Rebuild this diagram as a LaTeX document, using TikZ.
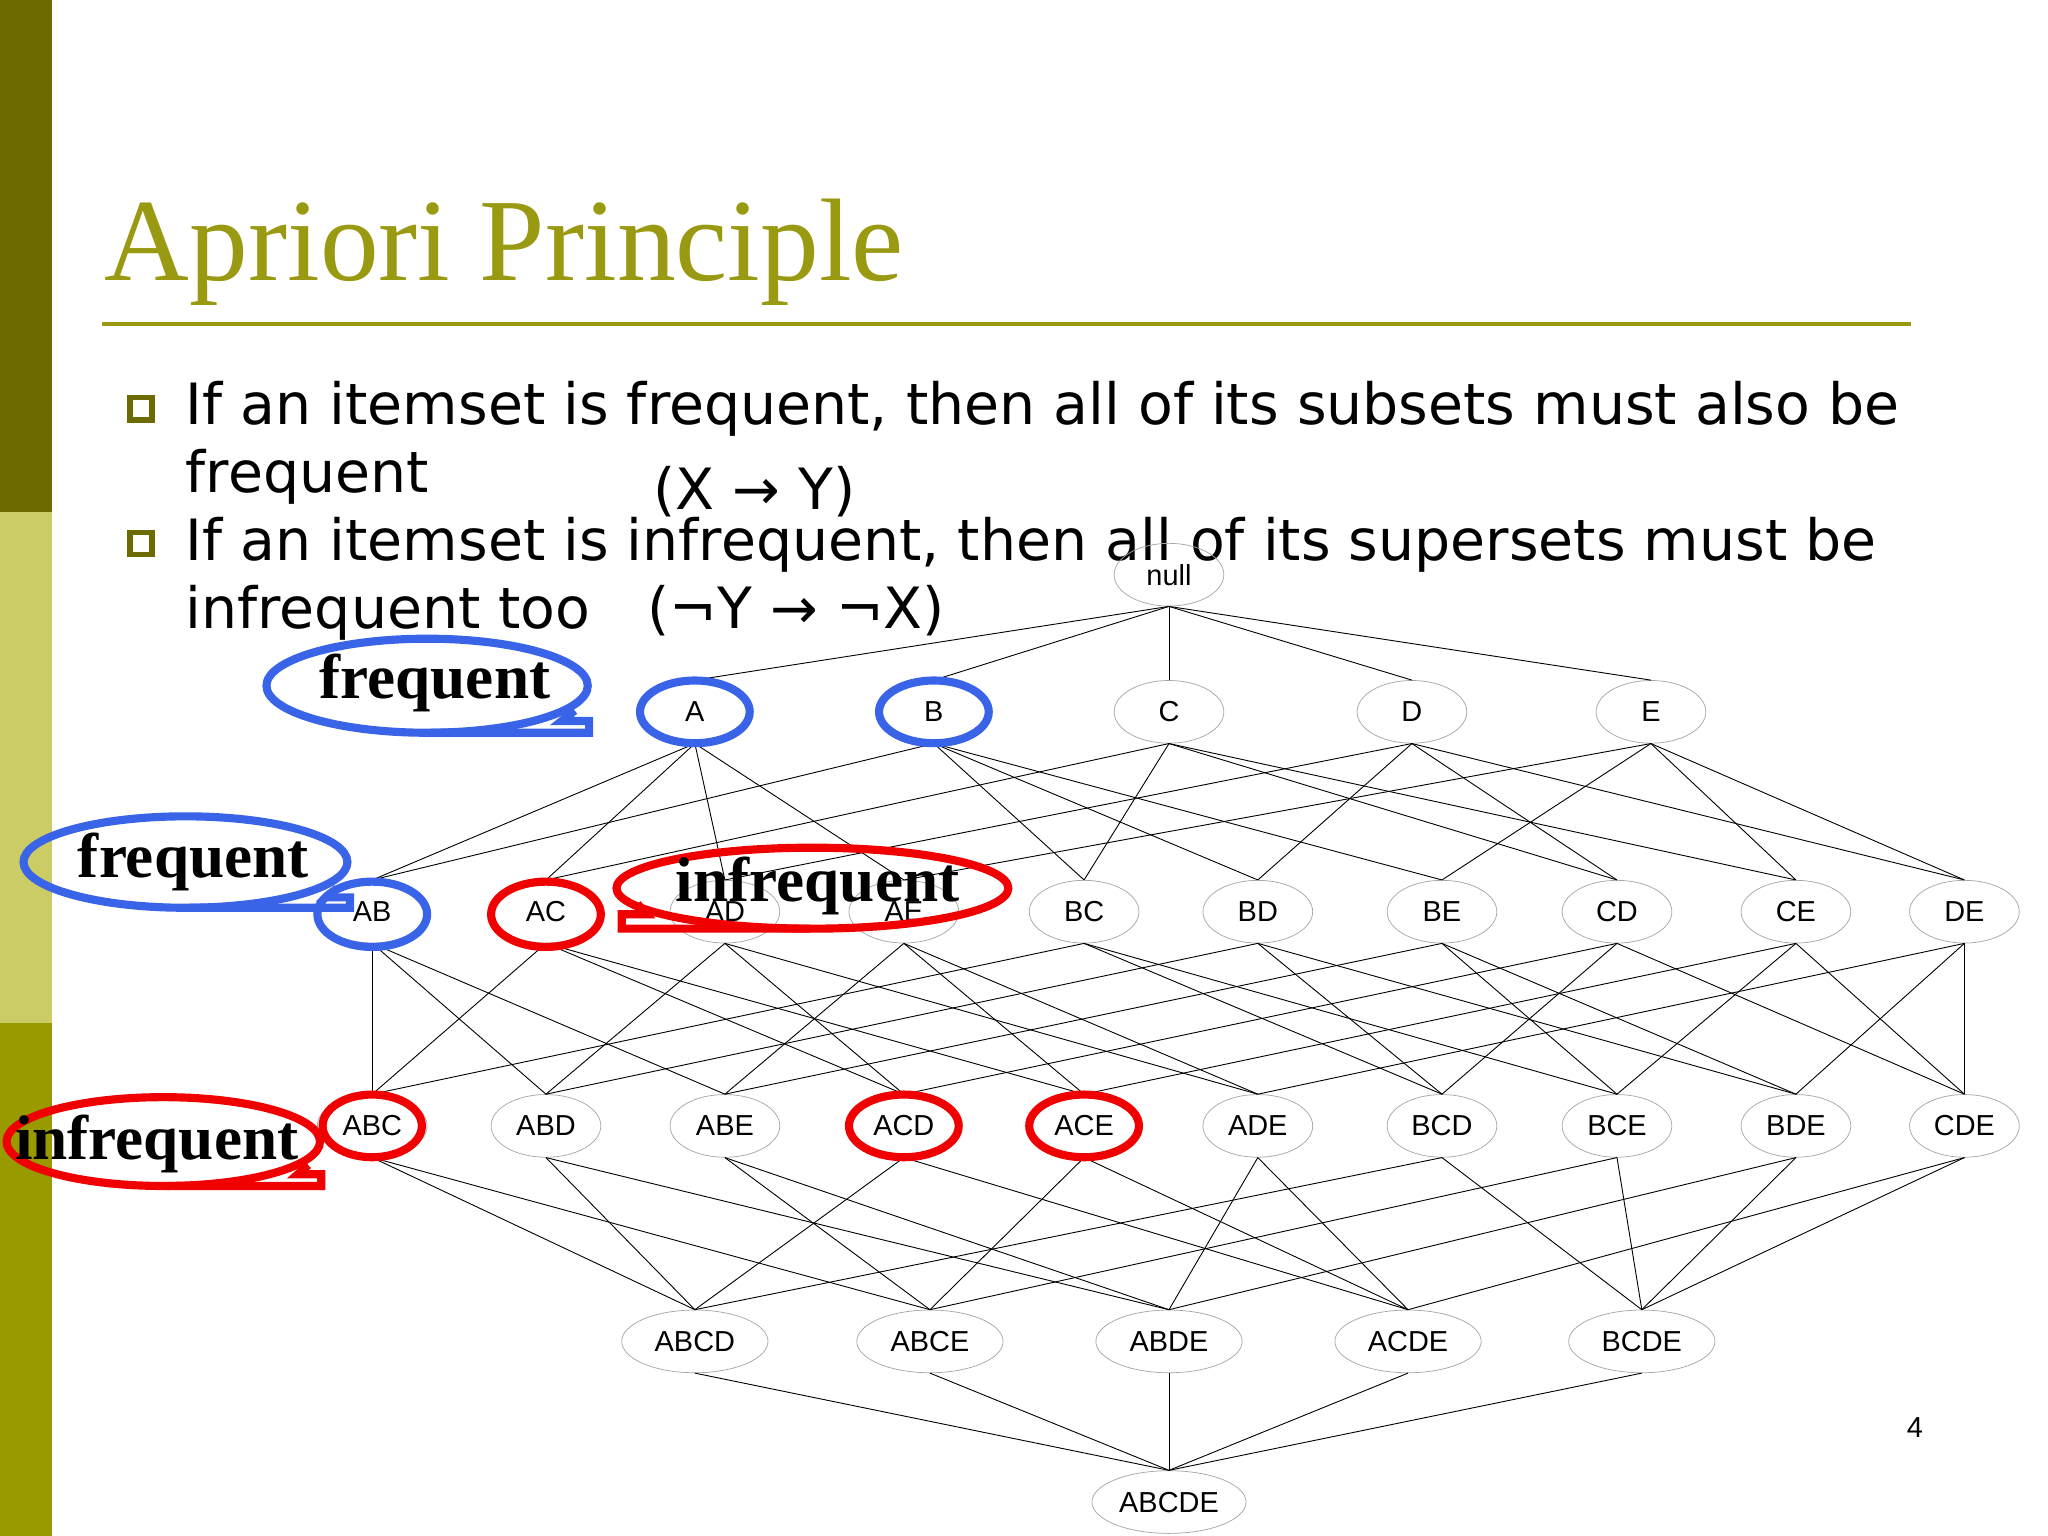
\documentclass[tikz,border=0pt]{standalone}
\usepackage{fontspec}
\setmainfont{Liberation Serif}
\newfontfamily\sfx{Liberation Sans}
\newfontfamily\djv{DejaVu Sans}
\usetikzlibrary{shapes.geometric}
\definecolor{olive1}{HTML}{6B6B00}
\definecolor{olive2}{HTML}{CCCC66}
\definecolor{olive3}{HTML}{999900}
\definecolor{titlec}{HTML}{9A9A12}
\definecolor{callb}{HTML}{3A64E8}
\definecolor{callr}{HTML}{F00000}
\tikzset{
 it/.style={ellipse,draw=gray!70,line width=0.4pt,minimum width=84*0.0254cm,minimum height=48*0.0254cm,inner sep=0pt,font=\sfx\fontsize{16}{16}\selectfont},
 itw/.style={it,minimum width=112*0.0254cm},
 ed/.style={line width=0.5pt},
 hb/.style={draw=callb,line width=4.5pt},
 hr/.style={draw=callr,line width=4.5pt},
 ctext/.style={font=\bfseries\fontsize{35}{35}\selectfont},
 btext/.style={anchor=base west,inner sep=0pt,font=\djv\fontsize{31.5}{31.5}\selectfont},
}
\begin{document}
\begin{tikzpicture}[x=0.0254cm,y=-0.0254cm]
\useasboundingbox (0,0) rectangle (1568,1176);
\fill[white] (0,0) rectangle (1568,1176);
\fill[olive1] (0,0) rectangle (40,392);
\fill[olive2] (0,392) rectangle (40,783);
\fill[olive3] (0,783) rectangle (40,1176);
\node[anchor=base west,inner sep=0pt,text=titlec,font=\fontsize{65}{65}\selectfont] (title) at (80,215) {Apriori Principle};
\draw[titlec,line width=2.2pt] (78,248) -- (1463,248);
\node[draw=olive1,line width=3pt,minimum size=17*0.0254cm,inner sep=0pt] (b1) at (108,313) {};
\node[draw=olive1,line width=3pt,minimum size=17*0.0254cm,inner sep=0pt] (b2) at (108,416) {};
\node[btext] (l1) at (142,325) {If an itemset is frequent, then all of its subsets must also be};
\node[btext] (l2) at (142,377) {frequent};
\node[btext] (l2b) at (500,390) {(X → Y)};
\node[btext] (l3) at (142,429) {If an itemset is infrequent, then all of its supersets must be};
\node[btext] (l4) at (142,481) {infrequent too\quad (¬Y → ¬X)};
% lattice nodes
\node[it] (nnull) at (895,440) {null};
\foreach \n/\x in {A/532,B/715,C/895,D/1081,E/1264} \node[it] (n\n) at (\x,545) {\n};
\foreach \n/\x in {AB/285,AC/418,AD/555,AE/692,BC/830,BD/963,BE/1104,CD/1238,CE/1375,DE/1504} \node[it] (n\n) at (\x,698) {\n};
\foreach \n/\x in {ABC/285,ABD/418,ABE/555,ACD/692,ACE/830,ADE/963,BCD/1104,BCE/1238,BDE/1375,CDE/1504} \node[it] (n\n) at (\x,862) {\n};
\foreach \n/\x in {ABCD/532,ABCE/712,ABDE/895,ACDE/1078,BCDE/1257} \node[itw] (n\n) at (\x,1027) {\n};
\node[itw,minimum width=118*0.0254cm] (nABCDE) at (895,1150) {ABCDE};
\foreach \c in {A,B,C,D,E} \draw[ed] (nnull.south) -- (n\c.north);
\foreach \c/\ps in {AB/{A,B},AC/{A,C},AD/{A,D},AE/{A,E},BC/{B,C},BD/{B,D},BE/{B,E},CD/{C,D},CE/{C,E},DE/{D,E},
 ABC/{AB,AC,BC},ABD/{AB,AD,BD},ABE/{AB,AE,BE},ACD/{AC,AD,CD},ACE/{AC,AE,CE},ADE/{AD,AE,DE},BCD/{BC,BD,CD},BCE/{BC,BE,CE},BDE/{BD,BE,DE},CDE/{CD,CE,DE},
 ABCD/{ABC,ABD,ACD,BCD},ABCE/{ABC,ABE,ACE,BCE},ABDE/{ABD,ABE,ADE,BDE},ACDE/{ACD,ACE,ADE,CDE},BCDE/{BCD,BCE,BDE,CDE},
 ABCDE/{ABCD,ABCE,ABDE,ACDE,BCDE}}
 \foreach \p in \ps \draw[ed] (n\p.south) -- (n\c.north);
% highlight circles
\draw[hb] (nA) ellipse [x radius=42, y radius=24];
\draw[hb] (nB) ellipse [x radius=42, y radius=24];
\draw[hb] (nAB.center) ++(0,2) ellipse [x radius=42, y radius=25];
\draw[hr] (nAC.center) ++(0,2) ellipse [x radius=42, y radius=25];
\draw[hr] (nABC) ellipse [x radius=38, y radius=24];
\draw[hr] (nACD) ellipse [x radius=42, y radius=24];
\draw[hr] (nACE) ellipse [x radius=42, y radius=24];
% callouts
\draw[hb] (327,525) ellipse [x radius=123, y radius=36];
\draw[hb,line join=miter] (330,561) -- (451,561) -- (451,552) -- (430,552) -- (440,544);
\node[ctext] (c1) at (333,523) {frequent};
\draw[hb] (142,660) ellipse [x radius=124, y radius=35];
\draw[hb,line join=miter] (145,695) -- (268,695) -- (268,687) -- (250,687) -- (258,680);
\node[ctext] (c2) at (148,660) {frequent};
\draw[hr] (622,680) ellipse [x radius=150, y radius=31];
\draw[hr,line join=miter] (620,711) -- (476,711) -- (476,700) -- (495,700) -- (488,692);
\node[ctext] (c3) at (626,678) {infrequent};
\draw[hr] (125,874) ellipse [x radius=120, y radius=34];
\draw[hr,line join=miter] (128,908) -- (246,908) -- (246,899) -- (228,899) -- (236,892);
\node[ctext] (c4) at (120,876) {infrequent};
\node[font=\sfx\fontsize{16}{16}\selectfont] (pg) at (1466,1093) {4};
\end{tikzpicture}
\end{document}
